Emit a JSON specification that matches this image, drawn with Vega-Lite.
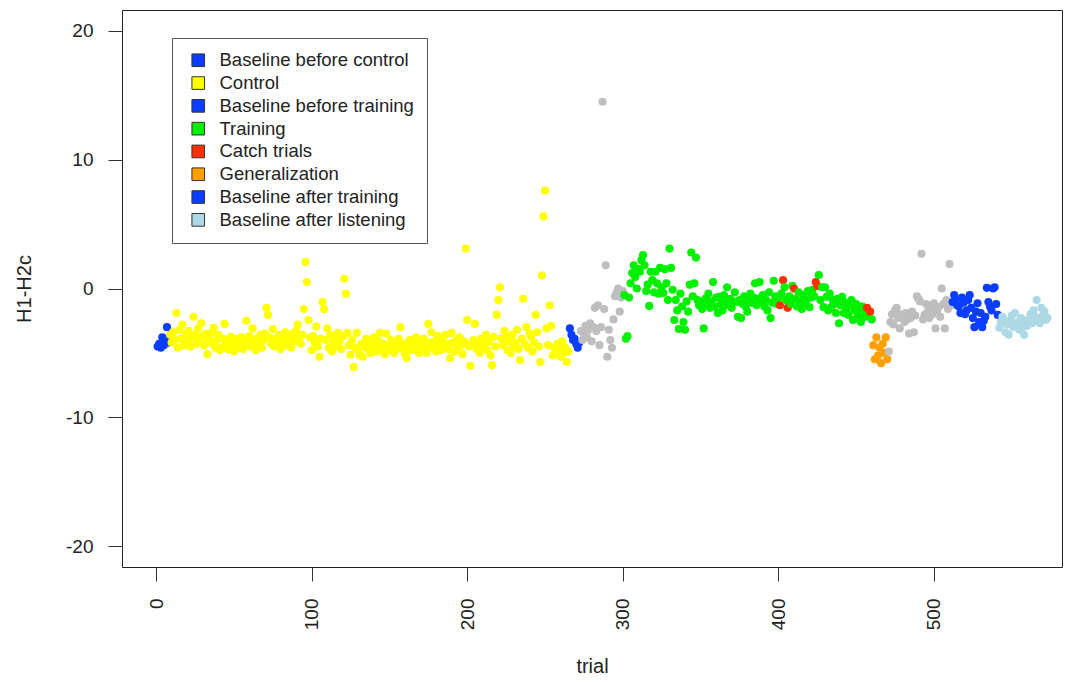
{
"$schema": "https://vega.github.io/schema/vega-lite/v6.json",
"width": 940, "height": 557,
"autosize": {"type": "none"},
"padding": {"left": 122, "top": 10, "right": 6, "bottom": 115},
"background": "white",
"config": {"view": {"stroke": "#222", "strokeWidth": 1}, "font": "Liberation Sans"},
"datasets": {
"phases": [
{"p":"bc","phase":"Baseline before control"},
{"p":"c","phase":"Control"},
{"p":"bt","phase":"Baseline before training"},
{"p":"tr","phase":"Training"},
{"p":"ca","phase":"Catch trials"},
{"p":"ge","phase":"Generalization"},
{"p":"at","phase":"Baseline after training"},
{"p":"al","phase":"Baseline after listening"},
{"p":"o","phase":"Other"}
],
"trials": [
{"t":1,"v":-4.5,"p":"bc"},{"t":2,"v":-4.3,"p":"bc"},{"t":3,"v":-4.6,"p":"bc"},{"t":4,"v":-3.8,"p":"bc"},{"t":5,"v":-4.4,"p":"bc"},{"t":6,"v":-4.0,"p":"bc"},{"t":7,"v":-3.0,"p":"bc"},{"t":8,"v":-4.2,"p":"bc"},
{"t":9,"v":-3.6,"p":"c"},{"t":10,"v":-4.2,"p":"c"},{"t":11,"v":-3.4,"p":"c"},{"t":12,"v":-4.0,"p":"c"},{"t":13,"v":-1.9,"p":"c"},{"t":14,"v":-4.6,"p":"c"},{"t":15,"v":-3.2,"p":"c"},{"t":16,"v":-3.9,"p":"c"},{"t":17,"v":-2.8,"p":"c"},{"t":18,"v":-4.4,"p":"c"},
{"t":19,"v":-3.5,"p":"c"},{"t":20,"v":-4.1,"p":"c"},{"t":21,"v":-3.3,"p":"c"},{"t":22,"v":-4.5,"p":"c"},{"t":23,"v":-3.8,"p":"c"},{"t":24,"v":-2.2,"p":"c"},{"t":25,"v":-3.6,"p":"c"},{"t":26,"v":-4.3,"p":"c"},{"t":27,"v":-3.1,"p":"c"},{"t":28,"v":-4.0,"p":"c"},
{"t":29,"v":-2.7,"p":"c"},{"t":30,"v":-3.7,"p":"c"},{"t":31,"v":-4.4,"p":"c"},{"t":32,"v":-3.5,"p":"c"},{"t":33,"v":-5.1,"p":"c"},{"t":34,"v":-3.9,"p":"c"},{"t":35,"v":-4.2,"p":"c"},{"t":36,"v":-3.4,"p":"c"},{"t":37,"v":-3.05,"p":"c"},{"t":38,"v":-4.6,"p":"c"},
{"t":39,"v":-4.0,"p":"c"},{"t":40,"v":-3.6,"p":"c"},{"t":41,"v":-4.8,"p":"c"},{"t":42,"v":-4.6,"p":"c"},{"t":43,"v":-3.9,"p":"c"},{"t":44,"v":-2.75,"p":"c"},{"t":45,"v":-4.3,"p":"c"},{"t":46,"v":-4.7,"p":"c"},{"t":47,"v":-4.1,"p":"c"},{"t":48,"v":-3.75,"p":"c"},
{"t":49,"v":-4.5,"p":"c"},{"t":50,"v":-4.9,"p":"c"},{"t":51,"v":-4.2,"p":"c"},{"t":52,"v":-3.9,"p":"c"},{"t":53,"v":-4.6,"p":"c"},{"t":54,"v":-4.4,"p":"c"},{"t":55,"v":-3.8,"p":"c"},{"t":56,"v":-4.7,"p":"c"},{"t":57,"v":-4.1,"p":"c"},{"t":58,"v":-2.5,"p":"c"},
{"t":59,"v":-4.3,"p":"c"},{"t":60,"v":-3.7,"p":"c"},{"t":61,"v":-4.5,"p":"c"},{"t":62,"v":-3.1,"p":"c"},{"t":63,"v":-4.2,"p":"c"},{"t":64,"v":-4.8,"p":"c"},{"t":65,"v":-3.9,"p":"c"},{"t":66,"v":-4.4,"p":"c"},{"t":67,"v":-3.6,"p":"c"},{"t":68,"v":-4.6,"p":"c"},
{"t":69,"v":-4.0,"p":"c"},{"t":70,"v":-3.5,"p":"c"},{"t":71,"v":-1.5,"p":"c"},{"t":72,"v":-2.05,"p":"c"},{"t":73,"v":-3.8,"p":"c"},{"t":74,"v":-4.3,"p":"c"},{"t":75,"v":-3.15,"p":"c"},{"t":76,"v":-4.5,"p":"c"},{"t":77,"v":-3.9,"p":"c"},{"t":78,"v":-4.1,"p":"c"},
{"t":79,"v":-3.6,"p":"c"},{"t":80,"v":-4.7,"p":"c"},{"t":81,"v":-4.2,"p":"c"},{"t":82,"v":-3.8,"p":"c"},{"t":83,"v":-3.4,"p":"c"},{"t":84,"v":-4.4,"p":"c"},{"t":85,"v":-3.7,"p":"c"},{"t":86,"v":-4.0,"p":"c"},{"t":87,"v":-4.6,"p":"c"},{"t":88,"v":-3.5,"p":"c"},
{"t":89,"v":-4.1,"p":"c"},{"t":90,"v":-3.3,"p":"c"},{"t":91,"v":-2.8,"p":"c"},{"t":92,"v":-3.9,"p":"c"},{"t":93,"v":-4.3,"p":"c"},{"t":94,"v":-3.6,"p":"c"},{"t":95,"v":-1.6,"p":"c"},{"t":96,"v":2.05,"p":"c"},{"t":97,"v":0.5,"p":"c"},{"t":98,"v":-2.45,"p":"c"},
{"t":99,"v":-3.8,"p":"c"},{"t":100,"v":-4.8,"p":"c"},{"t":101,"v":-3.7,"p":"c"},{"t":102,"v":-4.2,"p":"c"},{"t":103,"v":-2.95,"p":"c"},{"t":104,"v":-4.5,"p":"c"},{"t":105,"v":-5.3,"p":"c"},{"t":106,"v":-3.9,"p":"c"},{"t":107,"v":-1.05,"p":"c"},{"t":108,"v":-1.6,"p":"c"},
{"t":109,"v":-4.0,"p":"c"},{"t":110,"v":-3.1,"p":"c"},{"t":111,"v":-4.6,"p":"c"},{"t":112,"v":-3.6,"p":"c"},{"t":113,"v":-4.9,"p":"c"},{"t":114,"v":-4.2,"p":"c"},{"t":115,"v":-3.8,"p":"c"},{"t":116,"v":-4.5,"p":"c"},{"t":117,"v":-3.45,"p":"c"},{"t":118,"v":-4.1,"p":"c"},
{"t":119,"v":-4.7,"p":"c"},{"t":120,"v":-3.7,"p":"c"},{"t":121,"v":0.75,"p":"c"},{"t":122,"v":-0.4,"p":"c"},{"t":123,"v":-3.45,"p":"c"},{"t":124,"v":-4.4,"p":"c"},{"t":125,"v":-5.15,"p":"c"},{"t":126,"v":-4.0,"p":"c"},{"t":127,"v":-6.1,"p":"c"},{"t":128,"v":-4.6,"p":"c"},
{"t":129,"v":-3.45,"p":"c"},{"t":130,"v":-4.8,"p":"c"},{"t":131,"v":-5.2,"p":"c"},{"t":132,"v":-4.3,"p":"c"},{"t":133,"v":-5.3,"p":"c"},{"t":134,"v":-4.5,"p":"c"},{"t":135,"v":-3.9,"p":"c"},{"t":136,"v":-4.7,"p":"c"},{"t":137,"v":-4.2,"p":"c"},{"t":138,"v":-5.0,"p":"c"},
{"t":139,"v":-4.4,"p":"c"},{"t":140,"v":-3.8,"p":"c"},{"t":141,"v":-4.6,"p":"c"},{"t":142,"v":-4.9,"p":"c"},{"t":143,"v":-4.1,"p":"c"},{"t":144,"v":-3.45,"p":"c"},{"t":145,"v":-4.7,"p":"c"},{"t":146,"v":-4.3,"p":"c"},{"t":147,"v":-5.1,"p":"c"},{"t":148,"v":-3.5,"p":"c"},
{"t":149,"v":-4.5,"p":"c"},{"t":150,"v":-4.8,"p":"c"},{"t":151,"v":-4.0,"p":"c"},{"t":152,"v":-4.4,"p":"c"},{"t":153,"v":-5.0,"p":"c"},{"t":154,"v":-4.2,"p":"c"},{"t":155,"v":-4.6,"p":"c"},{"t":156,"v":-3.9,"p":"c"},{"t":157,"v":-3.0,"p":"c"},{"t":158,"v":-4.7,"p":"c"},
{"t":159,"v":-4.3,"p":"c"},{"t":160,"v":-5.1,"p":"c"},{"t":161,"v":-5.4,"p":"c"},{"t":162,"v":-4.5,"p":"c"},{"t":163,"v":-4.0,"p":"c"},{"t":164,"v":-4.8,"p":"c"},{"t":165,"v":-4.2,"p":"c"},{"t":166,"v":-4.6,"p":"c"},{"t":167,"v":-3.8,"p":"c"},{"t":168,"v":-4.4,"p":"c"},
{"t":169,"v":-5.0,"p":"c"},{"t":170,"v":-4.3,"p":"c"},{"t":171,"v":-4.7,"p":"c"},{"t":172,"v":-3.9,"p":"c"},{"t":173,"v":-4.5,"p":"c"},{"t":174,"v":-5.0,"p":"c"},{"t":175,"v":-2.75,"p":"c"},{"t":176,"v":-4.2,"p":"c"},{"t":177,"v":-3.4,"p":"c"},{"t":178,"v":-4.6,"p":"c"},
{"t":179,"v":-4.1,"p":"c"},{"t":180,"v":-4.9,"p":"c"},{"t":181,"v":-3.7,"p":"c"},{"t":182,"v":-4.4,"p":"c"},{"t":183,"v":-4.8,"p":"c"},{"t":184,"v":-4.0,"p":"c"},{"t":185,"v":-4.5,"p":"c"},{"t":186,"v":-3.6,"p":"c"},{"t":187,"v":-4.3,"p":"c"},{"t":188,"v":-4.7,"p":"c"},
{"t":189,"v":-5.4,"p":"c"},{"t":190,"v":-3.45,"p":"c"},{"t":191,"v":-4.2,"p":"c"},{"t":192,"v":-4.9,"p":"c"},{"t":193,"v":-4.0,"p":"c"},{"t":194,"v":-4.6,"p":"c"},{"t":195,"v":-3.8,"p":"c"},{"t":196,"v":-4.4,"p":"c"},{"t":197,"v":-5.1,"p":"c"},{"t":198,"v":-4.1,"p":"c"},
{"t":199,"v":3.1,"p":"c"},{"t":200,"v":-2.45,"p":"c"},{"t":201,"v":-4.5,"p":"c"},{"t":202,"v":-6.0,"p":"c"},{"t":203,"v":-4.3,"p":"c"},{"t":204,"v":-4.0,"p":"c"},{"t":205,"v":-2.75,"p":"c"},{"t":206,"v":-4.7,"p":"c"},{"t":207,"v":-4.2,"p":"c"},{"t":208,"v":-5.0,"p":"c"},
{"t":209,"v":-3.9,"p":"c"},{"t":210,"v":-4.6,"p":"c"},{"t":211,"v":-4.4,"p":"c"},{"t":212,"v":-3.6,"p":"c"},{"t":213,"v":-4.8,"p":"c"},{"t":214,"v":-4.1,"p":"c"},{"t":215,"v":-5.2,"p":"c"},{"t":216,"v":-5.95,"p":"c"},{"t":217,"v":-3.75,"p":"c"},{"t":218,"v":-4.5,"p":"c"},
{"t":219,"v":-2.05,"p":"c"},{"t":220,"v":-0.9,"p":"c"},{"t":221,"v":0.1,"p":"c"},{"t":222,"v":-3.9,"p":"c"},{"t":223,"v":-4.4,"p":"c"},{"t":224,"v":-3.3,"p":"c"},{"t":225,"v":-3.75,"p":"c"},{"t":226,"v":-4.8,"p":"c"},{"t":227,"v":-4.1,"p":"c"},{"t":228,"v":-5.0,"p":"c"},
{"t":229,"v":-3.6,"p":"c"},{"t":230,"v":-4.5,"p":"c"},{"t":231,"v":-4.2,"p":"c"},{"t":232,"v":-3.2,"p":"c"},{"t":233,"v":-4.7,"p":"c"},{"t":234,"v":-5.55,"p":"c"},{"t":235,"v":-3.9,"p":"c"},{"t":236,"v":-0.8,"p":"c"},{"t":237,"v":-4.3,"p":"c"},{"t":238,"v":-3.0,"p":"c"},
{"t":239,"v":-4.6,"p":"c"},{"t":240,"v":-3.5,"p":"c"},{"t":241,"v":-3.75,"p":"c"},{"t":242,"v":-4.9,"p":"c"},{"t":243,"v":-4.2,"p":"c"},{"t":244,"v":-2.05,"p":"c"},{"t":245,"v":-3.4,"p":"c"},{"t":246,"v":-4.5,"p":"c"},{"t":247,"v":-5.7,"p":"c"},{"t":248,"v":1.0,"p":"c"},
{"t":249,"v":5.6,"p":"c"},{"t":250,"v":7.6,"p":"c"},{"t":251,"v":-3.1,"p":"c"},{"t":252,"v":-4.4,"p":"c"},{"t":253,"v":-1.3,"p":"c"},{"t":254,"v":-2.9,"p":"c"},{"t":255,"v":-5.2,"p":"c"},{"t":256,"v":-4.6,"p":"c"},{"t":257,"v":-5.0,"p":"c"},{"t":258,"v":-4.3,"p":"c"},
{"t":259,"v":-4.8,"p":"c"},{"t":260,"v":-5.3,"p":"c"},{"t":261,"v":-4.1,"p":"c"},{"t":262,"v":-5.0,"p":"c"},{"t":263,"v":-4.6,"p":"c"},{"t":264,"v":-5.7,"p":"c"},{"t":265,"v":-4.9,"p":"c"},
{"t":266,"v":-3.1,"p":"bt"},{"t":267,"v":-3.6,"p":"bt"},{"t":268,"v":-4.0,"p":"bt"},{"t":269,"v":-3.9,"p":"bt"},{"t":270,"v":-4.3,"p":"bt"},{"t":271,"v":-4.6,"p":"bt"},{"t":272,"v":-4.2,"p":"bt"},
{"t":273,"v":-3.3,"p":"o"},{"t":274,"v":-4.0,"p":"o"},{"t":275,"v":-3.5,"p":"o"},{"t":276,"v":-2.9,"p":"o"},{"t":277,"v":-3.8,"p":"o"},{"t":278,"v":-3.2,"p":"o"},{"t":279,"v":-2.7,"p":"o"},{"t":280,"v":-4.1,"p":"o"},{"t":281,"v":-3.0,"p":"o"},{"t":282,"v":-1.5,"p":"o"},
{"t":283,"v":-3.3,"p":"o"},{"t":284,"v":-1.3,"p":"o"},{"t":285,"v":-4.4,"p":"o"},{"t":286,"v":-3.0,"p":"o"},{"t":287,"v":14.5,"p":"o"},{"t":288,"v":-1.6,"p":"o"},{"t":289,"v":1.8,"p":"o"},{"t":290,"v":-5.3,"p":"o"},{"t":291,"v":-3.2,"p":"o"},{"t":292,"v":-4.0,"p":"o"},
{"t":293,"v":-4.6,"p":"o"},{"t":294,"v":-2.4,"p":"o"},{"t":295,"v":-0.6,"p":"o"},{"t":296,"v":-0.3,"p":"o"},{"t":297,"v":0.0,"p":"o"},{"t":298,"v":-1.8,"p":"o"},{"t":299,"v":-0.7,"p":"o"},{"t":300,"v":-0.2,"p":"o"},
{"t":301,"v":-0.5,"p":"tr"},{"t":302,"v":-3.9,"p":"tr"},{"t":303,"v":-3.7,"p":"tr"},{"t":304,"v":-0.7,"p":"tr"},{"t":305,"v":0.4,"p":"tr"},{"t":306,"v":1.2,"p":"tr"},{"t":307,"v":1.8,"p":"tr"},{"t":308,"v":0.9,"p":"tr"},{"t":309,"v":0.0,"p":"tr"},{"t":310,"v":1.5,"p":"tr"},
{"t":311,"v":1.3,"p":"tr"},{"t":312,"v":2.2,"p":"tr"},{"t":313,"v":2.6,"p":"tr"},{"t":314,"v":1.8,"p":"tr"},{"t":315,"v":-0.2,"p":"tr"},{"t":316,"v":0.3,"p":"tr"},{"t":317,"v":-1.35,"p":"tr"},{"t":318,"v":1.3,"p":"tr"},{"t":319,"v":0.65,"p":"tr"},{"t":320,"v":-0.3,"p":"tr"},
{"t":321,"v":1.3,"p":"tr"},{"t":322,"v":0.4,"p":"tr"},{"t":323,"v":-0.4,"p":"tr"},{"t":324,"v":1.6,"p":"tr"},{"t":325,"v":0.1,"p":"tr"},{"t":326,"v":-0.35,"p":"tr"},{"t":327,"v":1.5,"p":"tr"},{"t":328,"v":0.4,"p":"tr"},{"t":329,"v":-0.9,"p":"tr"},{"t":330,"v":3.1,"p":"tr"},
{"t":331,"v":1.6,"p":"tr"},{"t":332,"v":-0.1,"p":"tr"},{"t":333,"v":-2.45,"p":"tr"},{"t":334,"v":-0.9,"p":"tr"},{"t":335,"v":-1.7,"p":"tr"},{"t":336,"v":-3.15,"p":"tr"},{"t":337,"v":-0.4,"p":"tr"},{"t":338,"v":-1.4,"p":"tr"},{"t":339,"v":-2.6,"p":"tr"},{"t":340,"v":-3.2,"p":"tr"},
{"t":341,"v":-1.0,"p":"tr"},{"t":342,"v":-1.8,"p":"tr"},{"t":343,"v":0.3,"p":"tr"},{"t":344,"v":2.8,"p":"tr"},{"t":345,"v":-0.6,"p":"tr"},{"t":346,"v":0.4,"p":"tr"},{"t":347,"v":2.4,"p":"tr"},{"t":348,"v":-0.9,"p":"tr"},{"t":349,"v":-1.3,"p":"tr"},{"t":350,"v":-1.1,"p":"tr"},
{"t":351,"v":-1.6,"p":"tr"},{"t":352,"v":-3.1,"p":"tr"},{"t":353,"v":-0.8,"p":"tr"},{"t":354,"v":-1.2,"p":"tr"},{"t":355,"v":-0.4,"p":"tr"},{"t":356,"v":-1.5,"p":"tr"},{"t":357,"v":-1.0,"p":"tr"},{"t":358,"v":0.5,"p":"tr"},{"t":359,"v":-1.4,"p":"tr"},{"t":360,"v":-0.7,"p":"tr"},
{"t":361,"v":-1.9,"p":"tr"},{"t":362,"v":-0.65,"p":"tr"},{"t":363,"v":-1.2,"p":"tr"},{"t":364,"v":-1.7,"p":"tr"},{"t":365,"v":-0.5,"p":"tr"},{"t":366,"v":-1.1,"p":"tr"},{"t":367,"v":0.1,"p":"tr"},{"t":368,"v":-1.3,"p":"tr"},{"t":369,"v":-0.8,"p":"tr"},{"t":370,"v":-1.5,"p":"tr"},
{"t":371,"v":-1.0,"p":"tr"},{"t":372,"v":-0.3,"p":"tr"},{"t":373,"v":-1.05,"p":"tr"},{"t":374,"v":-2.2,"p":"tr"},{"t":375,"v":-0.9,"p":"tr"},{"t":376,"v":-2.3,"p":"tr"},{"t":377,"v":-1.2,"p":"tr"},{"t":378,"v":-0.6,"p":"tr"},{"t":379,"v":-1.4,"p":"tr"},{"t":380,"v":-1.8,"p":"tr"},
{"t":381,"v":-0.9,"p":"tr"},{"t":382,"v":-0.4,"p":"tr"},{"t":383,"v":-1.1,"p":"tr"},{"t":384,"v":-0.7,"p":"tr"},{"t":385,"v":0.4,"p":"tr"},{"t":386,"v":-1.3,"p":"tr"},{"t":387,"v":-0.8,"p":"tr"},{"t":388,"v":0.5,"p":"tr"},{"t":389,"v":-1.0,"p":"tr"},{"t":390,"v":-0.5,"p":"tr"},
{"t":391,"v":-1.4,"p":"tr"},{"t":392,"v":-0.9,"p":"tr"},{"t":393,"v":-1.7,"p":"tr"},{"t":394,"v":-0.3,"p":"tr"},{"t":395,"v":-2.3,"p":"tr"},{"t":396,"v":-1.1,"p":"tr"},{"t":397,"v":0.6,"p":"tr"},{"t":398,"v":-0.6,"p":"tr"},{"t":399,"v":-1.2,"p":"tr"},{"t":400,"v":-0.8,"p":"tr"},
{"t":401,"v":-1.3,"p":"ca"},{"t":402,"v":-0.4,"p":"tr"},{"t":403,"v":0.65,"p":"ca"},{"t":404,"v":0.1,"p":"tr"},{"t":405,"v":-0.9,"p":"tr"},{"t":406,"v":-1.5,"p":"ca"},{"t":407,"v":-0.6,"p":"tr"},{"t":408,"v":-1.2,"p":"tr"},{"t":409,"v":0.2,"p":"tr"},{"t":410,"v":0.0,"p":"ca"},
{"t":411,"v":-0.8,"p":"tr"},{"t":412,"v":-1.4,"p":"tr"},{"t":413,"v":-0.3,"p":"tr"},{"t":414,"v":-1.0,"p":"tr"},{"t":415,"v":-1.6,"p":"tr"},{"t":416,"v":-0.5,"p":"tr"},{"t":417,"v":-1.3,"p":"tr"},{"t":418,"v":-0.9,"p":"tr"},{"t":419,"v":-0.2,"p":"tr"},{"t":420,"v":-1.45,"p":"tr"},
{"t":421,"v":-0.7,"p":"tr"},{"t":422,"v":-0.1,"p":"tr"},{"t":423,"v":-0.6,"p":"tr"},{"t":424,"v":0.5,"p":"ca"},{"t":425,"v":0.2,"p":"ca"},{"t":426,"v":1.05,"p":"tr"},{"t":427,"v":-0.9,"p":"tr"},{"t":428,"v":0.1,"p":"tr"},{"t":429,"v":-1.45,"p":"tr"},{"t":430,"v":0.1,"p":"tr"},
{"t":431,"v":-0.65,"p":"tr"},{"t":432,"v":-1.7,"p":"tr"},{"t":433,"v":-0.4,"p":"tr"},{"t":434,"v":-1.45,"p":"tr"},{"t":435,"v":-0.9,"p":"tr"},{"t":436,"v":-1.2,"p":"tr"},{"t":437,"v":-1.9,"p":"tr"},{"t":438,"v":-0.8,"p":"tr"},{"t":439,"v":-2.7,"p":"tr"},{"t":440,"v":-1.3,"p":"tr"},
{"t":441,"v":-0.65,"p":"tr"},{"t":442,"v":-1.9,"p":"tr"},{"t":443,"v":-1.1,"p":"tr"},{"t":444,"v":-1.5,"p":"tr"},{"t":445,"v":-2.05,"p":"tr"},{"t":446,"v":-1.3,"p":"tr"},{"t":447,"v":-0.9,"p":"tr"},{"t":448,"v":-2.45,"p":"tr"},{"t":449,"v":-1.7,"p":"tr"},{"t":450,"v":-1.2,"p":"tr"},
{"t":451,"v":-2.1,"p":"tr"},{"t":452,"v":-1.6,"p":"tr"},{"t":453,"v":-2.6,"p":"tr"},{"t":454,"v":-1.4,"p":"tr"},{"t":455,"v":-2.2,"p":"tr"},{"t":456,"v":-1.8,"p":"tr"},{"t":457,"v":-1.5,"p":"ca"},{"t":458,"v":-2.2,"p":"tr"},{"t":459,"v":-1.8,"p":"ca"},{"t":460,"v":-2.4,"p":"tr"},
{"t":461,"v":-4.4,"p":"ge"},{"t":462,"v":-5.5,"p":"ge"},{"t":463,"v":-3.8,"p":"ge"},{"t":464,"v":-5.2,"p":"ge"},{"t":465,"v":-4.6,"p":"ge"},{"t":466,"v":-5.8,"p":"ge"},{"t":467,"v":-4.3,"p":"ge"},{"t":468,"v":-5.0,"p":"ge"},{"t":469,"v":-3.8,"p":"ge"},{"t":470,"v":-5.5,"p":"ge"},
{"t":471,"v":-4.9,"p":"o"},{"t":472,"v":-2.6,"p":"o"},{"t":473,"v":-2.0,"p":"o"},{"t":474,"v":-2.8,"p":"o"},{"t":475,"v":-1.7,"p":"o"},{"t":476,"v":-1.5,"p":"o"},{"t":477,"v":-2.3,"p":"o"},{"t":478,"v":-3.1,"p":"o"},{"t":479,"v":-2.0,"p":"o"},{"t":480,"v":-2.2,"p":"o"},
{"t":481,"v":-2.6,"p":"o"},{"t":482,"v":-1.9,"p":"o"},{"t":483,"v":-2.4,"p":"o"},{"t":484,"v":-3.5,"p":"o"},{"t":485,"v":-2.3,"p":"o"},{"t":486,"v":-1.8,"p":"o"},{"t":487,"v":-3.4,"p":"o"},{"t":488,"v":-2.1,"p":"o"},{"t":489,"v":-0.6,"p":"o"},{"t":490,"v":-0.8,"p":"o"},
{"t":491,"v":-1.0,"p":"o"},{"t":492,"v":2.7,"p":"o"},{"t":493,"v":-2.4,"p":"o"},{"t":494,"v":-2.05,"p":"o"},{"t":495,"v":-1.2,"p":"o"},{"t":496,"v":-1.8,"p":"o"},{"t":497,"v":-2.3,"p":"o"},{"t":498,"v":-1.5,"p":"o"},{"t":499,"v":-2.0,"p":"o"},{"t":500,"v":-1.15,"p":"o"},
{"t":501,"v":-3.1,"p":"o"},{"t":502,"v":-1.7,"p":"o"},{"t":503,"v":-1.45,"p":"o"},{"t":504,"v":-2.2,"p":"o"},{"t":505,"v":0.0,"p":"o"},{"t":506,"v":-1.2,"p":"o"},{"t":507,"v":-3.1,"p":"o"},{"t":508,"v":-0.9,"p":"o"},{"t":509,"v":-1.6,"p":"o"},{"t":510,"v":1.9,"p":"o"},
{"t":511,"v":-1.3,"p":"o"},
{"t":512,"v":-1.05,"p":"at"},{"t":513,"v":-0.5,"p":"at"},{"t":514,"v":-0.9,"p":"at"},{"t":515,"v":-1.3,"p":"at"},{"t":516,"v":-1.4,"p":"at"},{"t":517,"v":-1.9,"p":"at"},{"t":518,"v":-0.7,"p":"at"},{"t":519,"v":-1.1,"p":"at"},{"t":520,"v":-2.0,"p":"at"},
{"t":521,"v":-1.7,"p":"at"},{"t":522,"v":-0.9,"p":"at"},{"t":523,"v":-0.5,"p":"at"},{"t":524,"v":-1.5,"p":"at"},{"t":525,"v":-2.3,"p":"at"},{"t":526,"v":-3.0,"p":"at"},{"t":527,"v":-1.8,"p":"at"},{"t":528,"v":-1.15,"p":"at"},{"t":529,"v":-2.6,"p":"at"},{"t":530,"v":-1.9,"p":"at"},
{"t":531,"v":-3.0,"p":"at"},{"t":532,"v":-2.5,"p":"at"},{"t":533,"v":-2.2,"p":"at"},{"t":534,"v":0.05,"p":"at"},{"t":535,"v":-1.05,"p":"at"},{"t":536,"v":-1.4,"p":"at"},{"t":537,"v":-1.7,"p":"at"},{"t":538,"v":0.0,"p":"at"},{"t":539,"v":0.1,"p":"at"},{"t":540,"v":-1.2,"p":"at"},
{"t":541,"v":-2.05,"p":"at"},
{"t":542,"v":-3.05,"p":"al"},{"t":543,"v":-2.6,"p":"al"},{"t":544,"v":-2.2,"p":"al"},{"t":545,"v":-2.45,"p":"al"},{"t":546,"v":-3.4,"p":"al"},{"t":547,"v":-2.8,"p":"al"},{"t":548,"v":-3.6,"p":"al"},{"t":549,"v":-2.5,"p":"al"},{"t":550,"v":-2.1,"p":"al"},
{"t":551,"v":-3.0,"p":"al"},{"t":552,"v":-1.9,"p":"al"},{"t":553,"v":-2.7,"p":"al"},{"t":554,"v":-2.6,"p":"al"},{"t":555,"v":-3.2,"p":"al"},{"t":556,"v":-2.3,"p":"al"},{"t":557,"v":-3.0,"p":"al"},{"t":558,"v":-3.6,"p":"al"},{"t":559,"v":-2.5,"p":"al"},{"t":560,"v":-2.9,"p":"al"},
{"t":561,"v":-2.45,"p":"al"},{"t":562,"v":-2.0,"p":"al"},{"t":563,"v":-2.7,"p":"al"},{"t":564,"v":-1.7,"p":"al"},{"t":565,"v":-2.2,"p":"al"},{"t":566,"v":-0.9,"p":"al"},{"t":567,"v":-2.5,"p":"al"},{"t":568,"v":-2.7,"p":"al"},{"t":569,"v":-1.5,"p":"al"},{"t":570,"v":-2.1,"p":"al"},
{"t":571,"v":-1.8,"p":"al"},{"t":572,"v":-2.45,"p":"al"},{"t":573,"v":-2.3,"p":"al"}
]
},
"data": {"name": "trials"},
"transform": [
{"lookup": "p", "from": {"data": {"name": "phases"}, "key": "p", "fields": ["phase"]}}
],
"mark": {"type": "point", "filled": true, "size": 66, "opacity": 1},
"encoding": {
"x": {"field": "t", "type": "quantitative",
 "scale": {"domain": [-21.9, 582.3], "nice": false, "zero": false},
 "axis": {"values": [0,100,200,300,400,500], "labelAngle": -90, "labelAlign": "right", "labelBaseline": "middle",
  "domain": false, "grid": false, "tickSize": 14, "tickColor": "#333", "labelFontSize": 19, "labelPadding": 17,
  "labelColor": "#222", "labelFont": "Liberation Sans", "labelExpr": "datum.value + ''",
  "title": "trial", "titleFontSize": 20, "titleFontWeight": "normal", "titlePadding": 27, "titleColor": "#222", "titleFont": "Liberation Sans"}},
"y": {"field": "v", "type": "quantitative",
 "scale": {"domain": [-21.63, 21.63], "nice": false, "zero": false},
 "axis": {"values": [-20,-10,0,10,20], "domain": false, "grid": false, "tickSize": 14, "tickColor": "#333",
  "labelFontSize": 19, "labelPadding": 15, "labelColor": "#222", "labelFont": "Liberation Sans", "labelExpr": "datum.value + ''",
  "title": "H1-H2c", "titleFontSize": 20, "titleFontWeight": "normal", "titlePadding": 31, "titleColor": "#222", "titleFont": "Liberation Sans"}},
"color": {"field": "phase", "type": "nominal",
 "scale": {"domain": ["Baseline before control","Control","Baseline before training","Training","Catch trials","Generalization","Baseline after training","Baseline after listening","Other"],
  "range": ["#0a3dff","#ffff00","#0a3dff","#00f000","#ff3000","#ffa000","#0a3dff","#add8e6","#bebebe"]},
 "legend": {"values": ["Baseline before control","Control","Baseline before training","Training","Catch trials","Generalization","Baseline after training","Baseline after listening"],
  "title": null, "orient": "none", "legendX": 50, "legendY": 28, "padding": 13, "symbolOffset": 4,
  "strokeColor": "#555", "fillColor": "white", "symbolType": "square", "symbolSize": 160,
  "symbolStrokeColor": "#333", "symbolStrokeWidth": 1, "labelFontSize": 18.5, "labelFont": "Liberation Sans",
  "labelColor": "#222", "labelOffset": 12, "rowPadding": 3.8, "labelLimit": 400,
  "encode": {"symbols": {"update": {"stroke": {"value": "#333"}, "strokeWidth": {"value": 1}}}}}}
}
}
